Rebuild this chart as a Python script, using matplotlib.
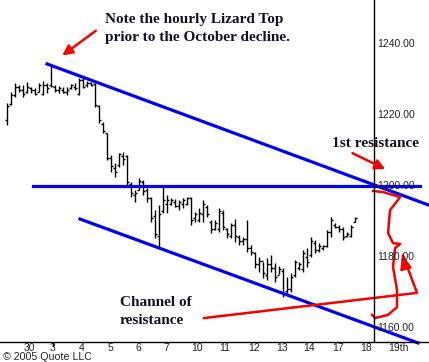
import numpy as np
import matplotlib
matplotlib.use("Agg")
import matplotlib.pyplot as plt

# hourly bars (open, high, low, close)
opens = [1218.5, 1223, 1225.5, 1228, 1227, 1226.5, 1227.5, 1227, 1226.5, 1226,
         1228.5, 1228.5, 1228, 1227, 1227, 1226.5, 1227.5, 1228, 1226, 1230,
         1228.5, 1229, 1228.8, 1222.5, 1217.5, 1214.8, 1208, 1205, 1206, 1208.5,
         1208.5, 1200.5, 1197.5, 1199, 1201, 1199, 1196.5, 1191.5, 1186, 1193,
         1195, 1195, 1195.5, 1194.5, 1195, 1195, 1196.5, 1191, 1190.5, 1192,
         1194, 1190, 1188, 1188, 1192.5, 1188, 1186, 1189, 1185.5, 1184.5,
         1185, 1182.5, 1181, 1178, 1179, 1175, 1178, 1177, 1175, 1176,
         1170.5, 1171, 1175, 1177, 1176.5, 1180, 1180.5, 1184, 1182, 1182.5,
         1183, 1187, 1189, 1188.5, 1188, 1186, 1186, 1190]
highs = [1223.4, 1226.5, 1229, 1228.5, 1228.5, 1229.3, 1227.9, 1227.6, 1229, 1229.6,
         1229, 1233.8, 1228.5, 1228.2, 1227.9, 1227.9, 1228.7, 1229, 1230.4, 1230.4,
         1229.6, 1229.3, 1229, 1222.8, 1218, 1215, 1208.7, 1206.5, 1209.3, 1209.6,
         1208.7, 1201.1, 1198.9, 1202.3, 1201.7, 1199.4, 1196.9, 1193.2, 1194.6, 1199.7,
         1197.5, 1196.6, 1196.3, 1196, 1196.6, 1196.9, 1196.9, 1192.7, 1193.8, 1196,
         1194.6, 1190.4, 1190.4, 1193.8, 1193.2, 1188.2, 1189.6, 1190.7, 1186.2, 1185.6,
         1190.4, 1183.4, 1181.4, 1180, 1178.6, 1179.7, 1180.6, 1178.3, 1177.5, 1176.9,
         1174.4, 1175.5, 1179.2, 1178.6, 1182, 1182.5, 1185.6, 1184.8, 1184, 1183.4,
         1187.6, 1191.3, 1189.6, 1189, 1188.5, 1187, 1189, 1191.3]
lows = [1217.2, 1222.8, 1225, 1226.5, 1225, 1226.2, 1226.2, 1225.6, 1226.5, 1225.6,
        1226.2, 1227.9, 1226.5, 1226.2, 1226.2, 1225.6, 1227.3, 1227, 1225.6, 1227.6,
        1227.9, 1228.2, 1222.3, 1217.7, 1215, 1207.3, 1204, 1202.5, 1205.4, 1206,
        1200.3, 1196.9, 1195.5, 1198.9, 1197.5, 1195.5, 1189.9, 1185.4, 1182.5, 1192.4,
        1192.4, 1194.6, 1194, 1193.2, 1193.8, 1194.6, 1189, 1189.9, 1189.9, 1189.9,
        1191.3, 1186.8, 1187.6, 1187, 1187.6, 1185.4, 1185.4, 1184.2, 1183.4, 1183.4,
        1181.4, 1180.6, 1176.9, 1175.8, 1174.1, 1173.5, 1175.8, 1173, 1175.2, 1168.7,
        1169.9, 1170.1, 1174.4, 1176.3, 1175.8, 1177.2, 1180, 1181.1, 1181.4, 1182,
        1182.8, 1185.6, 1188.2, 1187, 1184.8, 1185.6, 1185.6, 1189.9]
closes = [1222.5, 1225.5, 1228, 1227, 1226, 1228, 1227, 1226, 1228.5, 1228.5,
          1227.5, 1228.2, 1227, 1227.5, 1226.5, 1227, 1228.5, 1227.5, 1230, 1228,
          1229, 1228.5, 1222.8, 1218.5, 1215.5, 1208, 1205.5, 1204, 1209, 1207.5,
          1201, 1198, 1198, 1201.5, 1198.5, 1196.5, 1191, 1186.5, 1192, 1196,
          1196, 1196, 1194.5, 1195.5, 1196, 1196.5, 1190.5, 1192, 1192.5, 1195,
          1192, 1188, 1189.5, 1193, 1188.5, 1186.5, 1189, 1186, 1184.5, 1185,
          1182.5, 1181.5, 1178, 1179, 1175.5, 1178, 1177, 1174.5, 1176.5, 1170,
          1171, 1174.5, 1178.5, 1178, 1181, 1178.5, 1184.5, 1182, 1183, 1183,
          1187, 1190.5, 1188.5, 1188, 1185.5, 1186.5, 1188.5, 1191]

day_labels = ["30", "3", "4", "5", "6", "7", "10", "11", "12", "13", "14", "17", "18", "19th"]
day_pos = [5.5, 11.5, 18.75, 25.75, 32.75, 39.75, 47.5, 54.5, 61.75, 68.75, 75.5, 82.75, 89.75, 97.75]
price_ticks = [1160, 1180, 1200, 1220, 1240]

# drawn-on lines (bar index, price)
upper_x, upper_y = [10, 105.5], [1234.4, 1194.6]
lower_x, lower_y = [18.25, 102.75], [1190.7, 1155.8]
flat_x, flat_y = [6.5, 103.25], [1200, 1200]
scribble_x = [91.5, 94, 98.25, 97.75, 95.75, 95.25, 96.5, 98.25, 97, 96.5, 97.5, 97.5, 95.25, 92, 91.25]
scribble_y = [1198.6, 1198.3, 1196.9, 1196.1, 1193.2, 1186.8, 1183.9, 1183.7, 1182.5, 1177.2,
              1170.7, 1165.9, 1163.7, 1162.8, 1163.7]
red_x, red_y = [49.25, 102.5, 99.0], [1162.8, 1169.9, 1180.4]

fig = plt.figure(figsize=(4.29, 3.62), dpi=100)
ax = fig.add_axes([0, 20 / 362, 1, 342 / 362])
ax.set_xlim(-1.75, 105.5)
ax.set_ylim(1156.06, 1252.4)

x = np.arange(len(closes))
ax.vlines(x, lows, highs, color="black", lw=1)
ax.hlines(opens, x - 0.55, x, color="black", lw=1)
ax.hlines(closes, x, x + 0.55, color="black", lw=1)

blue = "#0000ee"
ax.plot(upper_x, upper_y, color=blue, lw=2.3, clip_on=False)
ax.plot(lower_x, lower_y, color=blue, lw=2.3, clip_on=False)
ax.plot(flat_x, flat_y, color=blue, lw=2.3, clip_on=False)

red = "#ee0000"
ax.plot(scribble_x, scribble_y, color=red, lw=1.8, clip_on=False)
ax.plot(red_x, red_y, color=red, lw=1.8, clip_on=False)
ax.annotate("", xy=(98.6, 1181.6), xytext=(99.2, 1179.0),
            arrowprops=dict(arrowstyle="-|>,head_length=0.9,head_width=0.35", color=red, lw=1.5))
ax.annotate("", xy=(13.25, 1236.3), xytext=(22.75, 1244.2),
            arrowprops=dict(arrowstyle="-|>,head_length=0.6,head_width=0.3", color=red, lw=1.8))
ax.annotate("", xy=(95.2, 1204.4), xytext=(85.75, 1209.6),
            arrowprops=dict(arrowstyle="-|>,head_length=0.6,head_width=0.3", color=red, lw=1.8))

# price axis
ax.axvline(91.75, color="black", lw=1)
for p in price_ticks:
    ax.text(92.5, p, f"{p:.2f}", fontsize=7.5, color="#222222", va="center", ha="left",
            family="Liberation Sans")

for s in ["top", "left", "right"]:
    ax.spines[s].set_visible(False)
ax.spines["bottom"].set_linewidth(1)
ax.set_yticks([])
ax.set_xticks(day_pos)
ax.set_xticklabels(day_labels, fontsize=7.5, color="#222222", family="Liberation Sans")
ax.tick_params(axis="x", length=0, pad=0.5)
ax.vlines(11.5, 1154.9, 1156.06, color="black", lw=1, clip_on=False)

tc = "#111122"
ax.text(24.5, 1244.4, "Note the hourly Lizard Top\nprior to the October decline.", fontsize=11,
        fontweight="bold", family="Liberation Serif", color=tc, va="center", ha="left", linespacing=1.5)
ax.text(81.25, 1212.1, "1st resistance", fontsize=11, fontweight="bold",
        family="Liberation Serif", color=tc, va="center", ha="left")
ax.text(28.25, 1164.6, "Channel of\nresistance", fontsize=11, fontweight="bold",
        family="Liberation Serif", color=tc, va="center", ha="left", linespacing=1.5)

fig.text(3 / 429, 5 / 362, "\u00a9 2005 Quote LLC", fontsize=7.7, color="#222222",
         va="center", ha="left", family="Liberation Sans")

fig.savefig("out.png", dpi=100)
